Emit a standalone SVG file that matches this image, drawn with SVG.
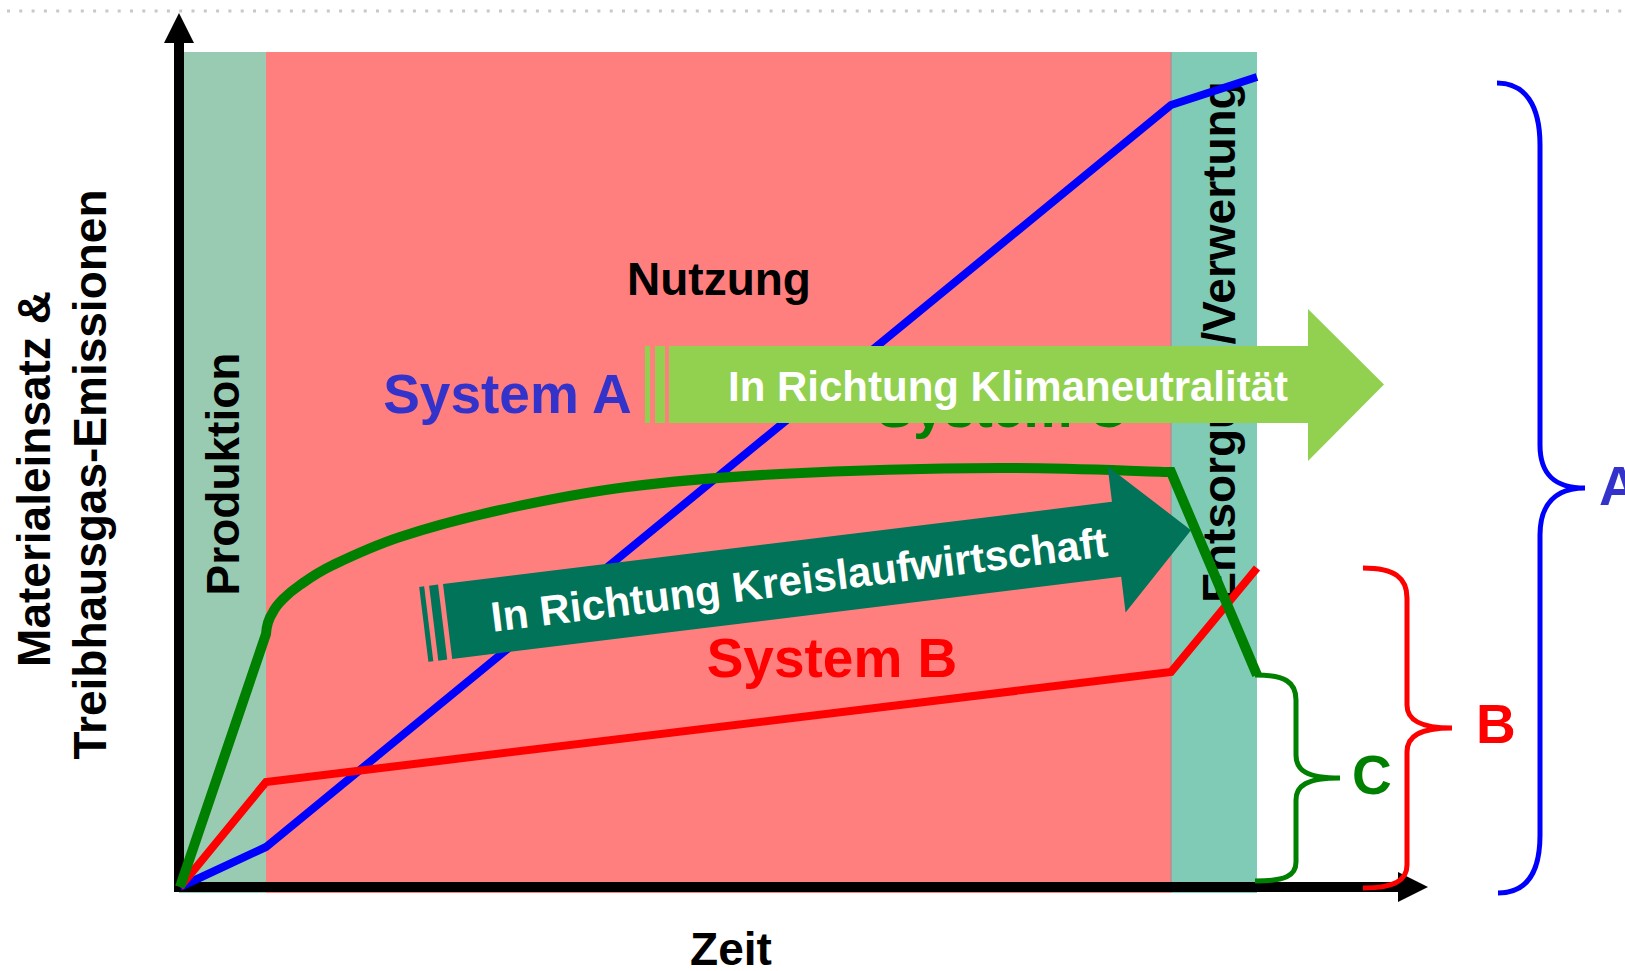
<svg xmlns="http://www.w3.org/2000/svg" width="1625" height="971" viewBox="0 0 1625 971">
<style>
text{font-family:"Liberation Sans",Arial,Helvetica,sans-serif;font-weight:bold}
.lbl{font-size:46px;fill:#000}
.sys{font-size:55px}
.arr{font-size:42px;fill:#fff}
.curve{fill:none;stroke-linejoin:miter}
.brace{fill:none;stroke-width:5;stroke-linecap:butt}
</style>
<rect x="0" y="0" width="1625" height="971" fill="#fff"/>
<line x1="7" y1="11" x2="1625" y2="11" stroke="#C8C8C8" stroke-width="3" stroke-dasharray="3 9.3"/>

<g id="phases">
  <rect id="band-produktion" x="179" y="52" width="87" height="841" fill="#99CBB3"/>
  <rect id="band-nutzung" x="266" y="52" width="905" height="841" fill="#FF7F7F"/>
  <rect id="band-entsorgung" x="1171" y="52" width="86" height="841" fill="#7FCBB6"/>
  <line x1="1171" y1="52" x2="1171" y2="893" stroke="#B09090" stroke-width="1.5"/>
</g>

<g id="axes">
  <line x1="179" y1="892" x2="179" y2="42" stroke="#000" stroke-width="10"/>
  <polygon points="164,43 179,13 194,43" fill="#000"/>
  <line x1="174" y1="887" x2="1400" y2="887" stroke="#000" stroke-width="10"/>
  <polygon points="1398,872 1428,887 1398,902" fill="#000"/>
</g>

<g id="labels">
  <text class="lbl" text-anchor="middle" transform="translate(50,479) rotate(-90)">Materialeinsatz &amp;</text>
  <text class="lbl" text-anchor="middle" transform="translate(106,474.5) rotate(-90)">Treibhausgas-Emissionen</text>
  <text class="lbl" text-anchor="middle" x="731" y="965">Zeit</text>
  <text id="produktion" class="lbl" text-anchor="middle" transform="translate(239,474) rotate(-90)">Produktion</text>
  <text id="nutzung" class="lbl" text-anchor="middle" x="719" y="295">Nutzung</text>
  <text id="entsorgung" class="lbl" text-anchor="middle" transform="translate(1235,342) rotate(-90)">Entsorgung/Verwertung</text>
  <text id="system-a" class="sys" text-anchor="middle" x="507.5" y="413" fill="#3333CC">System A</text>
  <text id="system-c" class="sys" text-anchor="middle" x="1002" y="427" fill="#008000">System C</text>
  <text id="system-b" class="sys" text-anchor="middle" x="832" y="677" fill="#FF0000">System B</text>
</g>

<g id="curves">
  <polyline id="curve-a" class="curve" points="180,887 266,847 1171,105 1257,77" stroke="#0000FF" stroke-width="8"/>
  <polyline id="curve-b" class="curve" points="180,887 266,782 1171,672 1257,568" stroke="#FF0000" stroke-width="8"/>
  <path id="curve-c" class="curve" stroke="#008000" stroke-width="10" d="M180,887 L266,634 C266.5,626 269,618 273,612 C275.8,606.2 278.5,603.5 283,599 C287.5,594.5 291.7,590.7 300,585 C308.3,579.2 316.3,573 333,565 C349.7,557 372.2,546.2 400,537 C427.8,527.8 462.2,518.3 500,510 C537.8,501.7 580.3,493 627,487 C673.7,481 717.8,477.2 780,474 C842.2,470.8 934.8,468.3 1000,468 C1065.2,467.7 1129.3,471 1171,472 L1257,675"/>
</g>

<g id="arrow-klima">
  <rect x="645" y="346" width="5" height="77" fill="#92D050"/>
  <rect x="655" y="346" width="10" height="77" fill="#92D050"/>
  <path d="M669,346 L1308,346 L1308,309 L1384,384.5 L1308,461 L1308,423 L669,423 Z" fill="#92D050"/>
  <text class="arr" text-anchor="middle" x="1008" y="401">In Richtung Klimaneutralität</text>
</g>

<g id="arrow-kreislauf" transform="translate(443,584) rotate(-7)">
  <rect x="-24" y="0" width="5" height="75.5" fill="#007358"/>
  <rect x="-14" y="0" width="9" height="75.5" fill="#007358"/>
  <path d="M0,0 L674,0 L674,-36 L749,37.75 L674,111.5 L674,75.5 L0,75.5 Z" fill="#007358"/>
  <text class="arr" text-anchor="middle" x="354" y="53.5">In Richtung Kreislaufwirtschaft</text>
</g>

<g id="brace-c">
  <path class="brace" stroke="#008000" d="M1255,675 C1285,675 1296,682 1296,700 L1296,755 C1296,770 1306,778 1340,778 C1306,778 1296,786 1296,800 L1296,862 C1296,876 1285,881 1255,881"/>
  <text class="sys" x="1352" y="794" fill="#008000">C</text>
</g>
<g id="brace-b">
  <path class="brace" stroke="#FF0000" d="M1363,568 C1395,568 1407,578 1407,598 L1407,705 C1407,720 1420,728 1452,728 C1420,728 1407,736 1407,752 L1407,865 C1407,880 1395,888 1363,888"/>
  <text class="sys" x="1476" y="743" fill="#FF0000">B</text>
</g>
<g id="brace-a">
  <path class="brace" stroke="#0000FF" stroke-width="5.5" d="M1497,83 C1525,83 1540,105 1540,145 L1540,445 C1540,475 1555,488 1585,488 C1555,488 1540,505 1540,535 L1540,835 C1540,875 1525,893 1498,893"/>
  <text class="sys" x="1599" y="505" fill="#3333CC">A</text>
</g>
</svg>
